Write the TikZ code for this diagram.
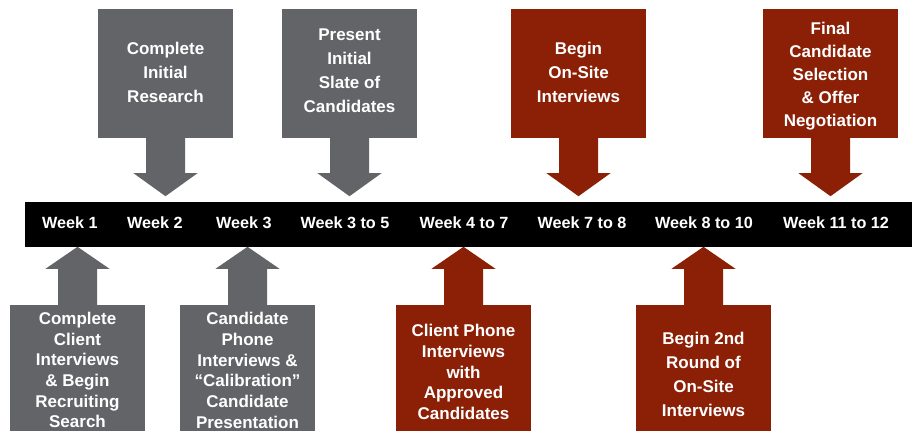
\documentclass[tikz,border=0pt]{standalone}
\usepackage{fontspec}
\setmainfont{Liberation Sans}
\usetikzlibrary{calc}
\definecolor{boxgray}{RGB}{99,100,104}
\definecolor{boxred}{RGB}{139,32,6}
\tikzset{
  evbox/.style={fill=#1, minimum width=135pt, inner sep=0pt},
  topbox/.style={evbox=#1, minimum height=129pt},
  botbox/.style={evbox=#1, minimum height=134pt},
  toptext/.style={text=white, align=center, inner sep=0pt, font=\fontsize{17}{24}\selectfont\bfseries},
  bottext/.style={text=white, align=center, inner sep=0pt, font=\fontsize{17}{20.7}\selectfont\bfseries},
  weeklbl/.style={text=white, font=\fontsize{16.2}{19}\selectfont\bfseries, anchor=base, inner sep=0pt},
}
\newcommand\tlarrowdown[2]{\fill[#2] ($(#1.south)+(-19.5,-1)$) -- ++(0,36) -- ++(-12.5,0) -- ++(32,23) -- ++(32,-23) -- ++(-12.5,0) -- ++(0,-36) -- cycle;}
\newcommand\tlarrowup[2]{\fill[#2] ($(#1.north)+(-19.5,1)$) -- ++(0,-37) -- ++(-12.5,0) -- ++(32,-22) -- ++(32,22) -- ++(-12.5,0) -- ++(0,37) -- cycle;}
\begin{document}
\begin{tikzpicture}[x=1pt,y=-1pt]
\clip (0,0) rectangle (916,431);
\fill[white] (0,0) rectangle (916,431);
% timeline bar
\node[fill=black, minimum width=887pt, minimum height=45pt, inner sep=0pt] (bar) at (468.5,224.5) {};
\node[weeklbl] (w1) at (70,228.5) {Week 1};
\node[weeklbl] (w2) at (155,228.5) {Week 2};
\node[weeklbl] (w3) at (244,228.5) {Week 3};
\node[weeklbl] (w4) at (345,228.5) {Week 3 to 5};
\node[weeklbl] (w5) at (464,228.5) {Week 4 to 7};
\node[weeklbl] (w6) at (582,228.5) {Week 7 to 8};
\node[weeklbl] (w7) at (704,228.5) {Week 8 to 10};
\node[weeklbl] (w8) at (836,228.5) {Week 11 to 12};
% top boxes
\node[topbox=boxgray] (t1) at (165.5,73.5) {};
\node[topbox=boxgray] (t2) at (349.5,73.5) {};
\node[topbox=boxred] (t3) at (578.5,73.5) {};
\node[topbox=boxred] (t4) at (830.5,73.5) {};
\node[toptext] (t1txt) at (165.5,72) {Complete\\Initial\\Research};
\node[toptext] (t2txt) at (349.5,70.5) {Present\\Initial\\Slate of\\Candidates};
\node[toptext] (t3txt) at (578.5,72) {Begin\\On-Site\\Interviews};
\node[toptext, font=\fontsize{17}{23}\selectfont\bfseries] (t4txt) at (830.5,76.5) {Final\\Candidate\\Selection\\\& Offer\\Negotiation};
\tlarrowdown{t1}{boxgray}
\tlarrowdown{t2}{boxgray}
\tlarrowdown{t3}{boxred}
\tlarrowdown{t4}{boxred}
% bottom boxes
\node[botbox=boxgray] (b1) at (77.5,372) {};
\node[botbox=boxgray] (b2) at (247.5,372) {};
\node[botbox=boxred] (b3) at (463.5,372) {};
\node[botbox=boxred] (b4) at (703.5,372) {};
\node[bottext] (b1txt) at (77.5,370) {Complete\\Client\\Interviews\\\& Begin\\Recruiting\\Search};
\node[bottext] (b2txt) at (247.5,370.5) {Candidate\\Phone\\Interviews \&\\“Calibration”\\Candidate\\Presentation};
\node[bottext] (b3txt) at (463.5,372) {Client Phone\\Interviews\\with\\Approved\\Candidates};
\node[bottext, font=\fontsize{17}{24}\selectfont\bfseries] (b4txt) at (703.5,374) {Begin 2nd\\Round of\\On-Site\\Interviews};
\tlarrowup{b1}{boxgray}
\tlarrowup{b2}{boxgray}
\tlarrowup{b3}{boxred}
\tlarrowup{b4}{boxred}
\end{tikzpicture}
\end{document}
